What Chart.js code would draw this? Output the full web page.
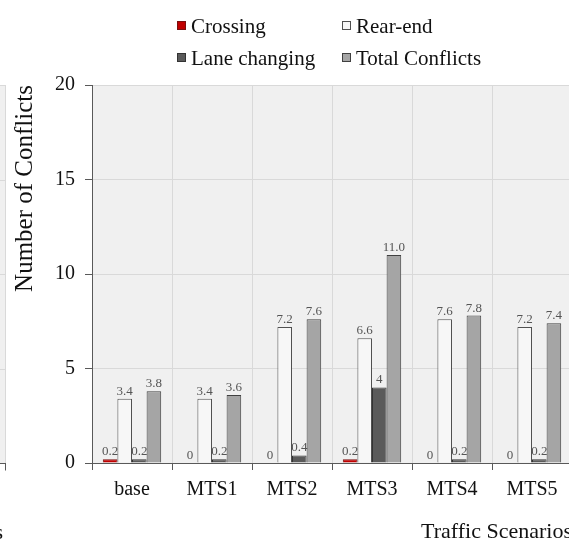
<!DOCTYPE html>
<html>
<head>
<meta charset="utf-8">
<script src="https://cdn.jsdelivr.net/npm/chart.js@4.4.1/dist/chart.umd.min.js"></script>
<style>
html,body{margin:0;padding:0;background:#fff;overflow:hidden;}
#wrap{position:absolute;left:0;top:0;width:572px;height:543px;}
</style>
</head>
<body>
<div id="wrap"><canvas id="c" width="572" height="543"></canvas></div>
<script>
const categories = ['base', 'MTS1', 'MTS2', 'MTS3', 'MTS4', 'MTS5'];
const seriesNames = ['Crossing', 'Rear-end', 'Lane changing', 'Total Conflicts'];
const crossing = [0.2, 0, 0, 0.2, 0, 0];
const rearEnd = [3.4, 3.4, 7.2, 6.6, 7.6, 7.2];
const laneChanging = [0.2, 0.2, 0.4, 4, 0.2, 0.2];
const totalConflicts = [3.8, 3.6, 7.6, 11.0, 7.8, 7.4];
const yTicks = [0, 5, 10, 15, 20];
const labelDecimals = [null, 1, null, 1];

const fills = ['#c00000', '#f7f7f7', '#5a5a5a', '#a5a5a5'];
const borders = ['#7a1010', '#505050', '#333333', '#404040'];
const SERIF = '"Liberation Serif", "DejaVu Serif", serif';

const bgPlugin = {
  id: 'bg',
  beforeDraw(chart) {
    const {ctx, chartArea: a, scales} = chart;
    ctx.save();
    ctx.fillStyle = '#f0f0f0';
    ctx.fillRect(a.left, a.top, a.right - a.left, a.bottom - a.top);
    // fragment of neighbouring panel at the far left
    ctx.fillRect(0, a.top, 5, a.bottom - a.top);
    ctx.strokeStyle = '#d9d9d9';
    ctx.lineWidth = 1;
    yTicks.forEach(v => {
      const y = Math.round(scales.y.getPixelForValue(v)) + 0.5;
      ctx.beginPath(); ctx.moveTo(0, y); ctx.lineTo(5, y); ctx.stroke();
    });
    ctx.beginPath(); ctx.moveTo(5.5, a.top); ctx.lineTo(5.5, a.bottom); ctx.stroke();
    ctx.strokeStyle = '#595959';
    const yb = Math.round(a.bottom) + 0.5;
    ctx.beginPath(); ctx.moveTo(0, yb); ctx.lineTo(6, yb); ctx.stroke();
    ctx.beginPath(); ctx.moveTo(5.5, yb); ctx.lineTo(5.5, yb + 7); ctx.stroke();
    ctx.fillStyle = '#111';
    ctx.font = '22px ' + SERIF;
    ctx.textAlign = 'right';
    ctx.textBaseline = 'alphabetic';
    ctx.fillText('Scenarios', 3, 539);
    ctx.restore();
  }
};

const labelPlugin = {
  id: 'vals',
  afterDatasetsDraw(chart) {
    const {ctx} = chart;
    ctx.save();
    ctx.font = '13px ' + SERIF;
    ctx.fillStyle = '#555';
    ctx.textAlign = 'center';
    ctx.textBaseline = 'alphabetic';
    chart.data.datasets.forEach((ds, i) => {
      const meta = chart.getDatasetMeta(i);
      meta.data.forEach((bar, j) => {
        const v = ds.data[j];
        const d = labelDecimals[i];
        const txt = d === null ? String(v) : v.toFixed(d);
        ctx.fillText(txt, bar.x, bar.y - 4);
      });
    });
    ctx.restore();
  }
};

const legendPlugin = {
  id: 'legend2',
  afterDraw(chart) {
    const {ctx} = chart;
    const colX = [177, 342];
    const rowY = [26, 58];
    ctx.save();
    ctx.font = '21px ' + SERIF;
    ctx.textBaseline = 'middle';
    ctx.textAlign = 'left';
    chart.data.datasets.forEach((ds, i) => {
      const x = colX[i % 2], y = rowY[Math.floor(i / 2)];
      ctx.fillStyle = ds.backgroundColor;
      ctx.fillRect(x, y - 5, 9, 9);
      ctx.strokeStyle = ds.borderColor;
      ctx.lineWidth = 1;
      ctx.strokeRect(x + 0.5, y - 4.5, 8, 8);
      ctx.fillStyle = '#111';
      ctx.fillText(ds.label, x + 14, y + 1);
    });
    ctx.restore();
  }
};

const seriesData = [crossing, rearEnd, laneChanging, totalConflicts];

new Chart(document.getElementById('c'), {
  type: 'bar',
  data: {
    labels: categories,
    datasets: seriesData.map((d, i) => ({
      label: seriesNames[i],
      data: d,
      backgroundColor: fills[i],
      borderColor: borders[i],
      borderWidth: 1,
      categoryPercentage: 0.73,
      barPercentage: 1.0
    }))
  },
  options: {
    responsive: false,
    animation: false,
    layout: {padding: {top: 85, left: 0, right: 0, bottom: 0}},
    plugins: {legend: {display: false}, tooltip: {enabled: false}},
    scales: {
      x: {
        afterFit(s) { s.height = 80; },
        grid: {color: '#d9d9d9', tickColor: '#595959', tickLength: 7, offset: true},
        border: {color: '#595959', width: 1},
        ticks: {color: '#111', font: {family: SERIF, size: 20}, padding: 8},
        title: {display: true, text: 'Traffic Scenarios', align: 'end', color: '#111',
                font: {family: SERIF, size: 22, lineHeight: 1}, padding: 0}
      },
      y: {
        min: 0, max: 20,
        afterFit(s) { s.width = 92; },
        afterBuildTicks(s) { s.ticks = yTicks.map(v => ({value: v})); },
        grid: {color: '#d9d9d9', tickColor: '#595959', tickLength: 7},
        border: {color: '#595959', width: 1},
        ticks: {color: '#111', font: {family: SERIF, size: 20}, padding: 10},
        title: {display: true, text: 'Number of Conflicts', align: 'end', color: '#111',
                font: {family: SERIF, size: 25, lineHeight: 1.2}, padding: {top: 10, bottom: 0}}
      }
    }
  },
  plugins: [bgPlugin, labelPlugin, legendPlugin]
});
</script>
</body>
</html>
